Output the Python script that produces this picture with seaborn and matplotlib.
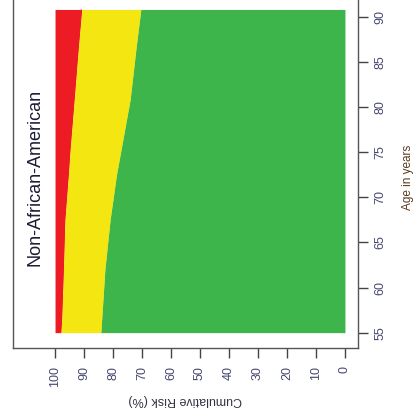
import matplotlib
matplotlib.use("Agg")
import matplotlib.pyplot as plt
import seaborn as sns
import pandas as pd

# Data
ages = [55, 56.5, 62, 67.5, 72.5, 75.3, 80.8, 86.4, 90.8]
red_yellow_edge = [98.0, 97.7, 97.1, 96.6, 95.4, 94.8, 93.4, 92.0, 90.8]     # cumulative risk (%)
yellow_green_edge = [84.2, 83.9, 82.8, 81.0, 78.8, 77.2, 74.1, 72.1, 70.4]   # cumulative risk (%)
x_ticks = [100, 90, 80, 70, 60, 50, 40, 30, 20, 10, 0]
y_ticks = [55, 60, 65, 70, 75, 80, 85, 90]
group_label = "Non-African-American"

df = pd.DataFrame({"age": ages, "ry": red_yellow_edge, "yg": yellow_green_edge})

sns.set_style("white")
plt.rcParams["font.family"] = ["Liberation Sans", "DejaVu Sans"]

fig = plt.figure(figsize=(4.18, 4.16), dpi=100)
ax = fig.add_axes([13/418, (416-348)/416, 345/418, 353/416])

red = "#ED1C24"
yellow = "#F3E611"
green = "#3DB54A"

ax.fill_betweenx(df["age"], 100, df["ry"], color=red, linewidth=0)
ax.fill_betweenx(df["age"], df["ry"], df["yg"], color=yellow, linewidth=0)
ax.fill_betweenx(df["age"], df["yg"], 0, color=green, linewidth=0)
sns.lineplot(data=df, x="ry", y="age", orient="y", ax=ax, color=red, linewidth=0.5, sort=False)
sns.lineplot(data=df, x="yg", y="age", orient="y", ax=ax, color=yellow, linewidth=0.5, sort=False)

ax.set_xlim(114.5, -4.5)
ax.set_ylim(53.3, 92.4)

for s in ax.spines.values():
    s.set_color("#555555")
    s.set_linewidth(1.0)

tick_col = "#45476e"
ax.set_xticks(x_ticks)
ax.set_xticklabels([str(v) for v in x_ticks], rotation=90, fontsize=9, color=tick_col)
ax.yaxis.tick_right()
ax.set_yticks(y_ticks)
ax.set_yticklabels([str(v) for v in y_ticks], rotation=90, fontsize=9, color=tick_col, va="center")
ax.tick_params(axis="x", direction="out", length=7, width=1, color="#444444", pad=6, bottom=True)
ax.tick_params(axis="y", direction="out", length=7, width=1, color="#444444", pad=5, right=True, left=False)
ax.set_xlabel("")
ax.set_ylabel("")

ax.text(0.5, (348-400)/353, "Cumulative Risk (%)", transform=ax.transAxes, rotation=180,
        ha="center", va="center", fontsize=9, color="#333344")
ax.text((408-13)/345, (348-177)/353, "Age in years", transform=ax.transAxes, rotation=90,
        ha="center", va="center", fontsize=8.5, color="#5b3a1e")
ax.text((35-13)/345, (348-177)/353, group_label, transform=ax.transAxes, rotation=90,
        ha="center", va="center", fontsize=13, color="#1c1c36")

fig.savefig("out.png", dpi=100)
